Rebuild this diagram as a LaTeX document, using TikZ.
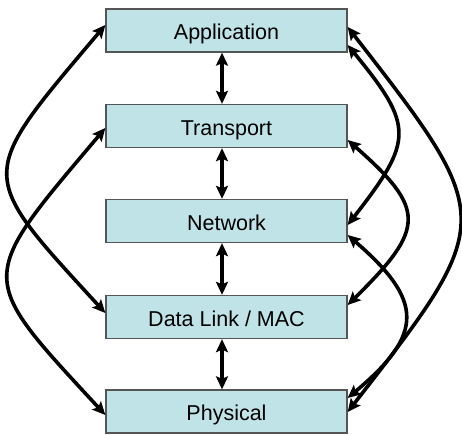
\documentclass[tikz,border=0pt]{standalone}
\usepackage{fontspec}
\setmainfont{Liberation Sans}
\usetikzlibrary{arrows.meta,calc}
\definecolor{boxfill}{RGB}{191,227,230}
\definecolor{boxline}{RGB}{85,85,85}
\begin{document}
\begin{tikzpicture}[x=1pt,y=-1pt,
  layer/.style={draw=boxline, line width=1.3pt, fill=boxfill, minimum width=241pt,
    minimum height=43pt, inner sep=0pt, text height=18pt, text depth=0pt,
    font=\fontsize{21.5}{24}\selectfont},
  link/.style={line width=3.6pt,
    {Stealth[length=13pt,width=12pt,inset=2.5pt]}-{Stealth[length=13pt,width=12pt,inset=2.5pt]}}]
\useasboundingbox (0,0) rectangle (462,434);
\node[layer] (app) at (226.5,30.5) {Application};
\node[layer] (trans) at (226.5,126) {Transport};
\node[layer] (net) at (226.5,221) {Network};
\node[layer] (dl) at (226.5,317) {Data Link / MAC};
\node[layer] (phys) at (226.5,411.5) {Physical};
% vertical links
\draw[link] ($(app.south)+(-4.5,0)$) -- ($(trans.north)+(-4.5,0)$);
\draw[link] ($(trans.south)+(-4.5,0)$) -- ($(net.north)+(-4.5,0)$);
\draw[link] ($(net.south)+(-4.5,0)$) -- ($(dl.north)+(-4.5,0)$);
\draw[link] ($(dl.south)+(-4.5,0)$) -- ($(phys.north)+(-4.5,0)$);
% left side
\draw[link] ($(app.west)+(0,-5.5)$) .. controls (-24,178) and (-24,172) .. ($(dl.west)+(0,-4)$);
\draw[link] ($(trans.west)+(0,2)$) .. controls (-24,281) and (-24,275) .. ($(phys.west)+(0,3.5)$);
% right side
\draw[link] ($(app.east)+(0,-3.5)$) .. controls (497,219) and (497,220) .. ($(phys.east)+(0,0.5)$);
\draw[link] ($(app.east)+(0,14.5)$) .. controls (414,126) and (414,140) .. ($(net.east)+(0,4)$);
\draw[link] ($(trans.east)+(0,14)$) .. controls (426,209) and (426,228) .. ($(dl.east)+(0,-12)$);
\draw[link] ($(net.east)+(0,14)$) .. controls (424,301) and (424,334) .. ($(phys.east)+(0,-13.5)$);
\end{tikzpicture}
\end{document}
